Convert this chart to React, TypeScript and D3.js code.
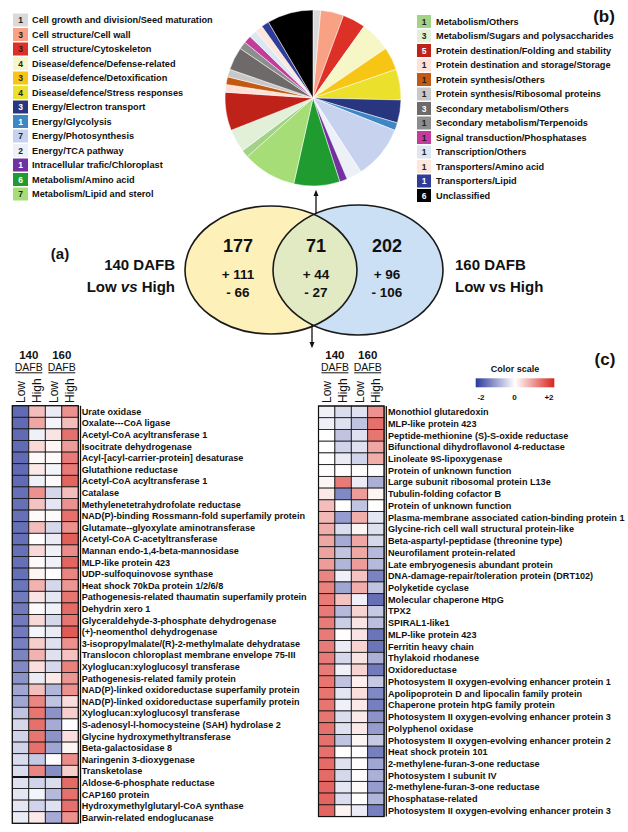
import React from "react";
import * as d3 from "d3";

const pieCategories = [
  "Cell growth and division/Seed maturation",
  "Cell structure/Cell wall",
  "Cell structure/Cytoskeleton",
  "Disease/defence/Defense-related",
  "Disease/defence/Detoxification",
  "Disease/defence/Stress responses",
  "Energy/Electron transport",
  "Energy/Glycolysis",
  "Energy/Photosynthesis",
  "Energy/TCA pathway",
  "Intracellular trafic/Chloroplast",
  "Metabolism/Amino acid",
  "Metabolism/Lipid and sterol",
  "Metabolism/Others",
  "Metabolism/Sugars and polysaccharides",
  "Protein destination/Folding and stability",
  "Protein destination and storage/Storage",
  "Protein synthesis/Others",
  "Protein synthesis/Ribosomal proteins",
  "Secondary metabolism/Others",
  "Secondary metabolism/Terpenoids",
  "Signal transduction/Phosphatases",
  "Transcription/Others",
  "Transporters/Amino acid",
  "Transporters/Lipid",
  "Unclassified",
];
const pieCounts = [1, 3, 3, 4, 3, 4, 3, 1, 7, 2, 1, 6, 7, 1, 3, 5, 1, 1, 1, 3, 1, 1, 1, 1, 1, 6];
const pieColors = [
  "#d9d9d9", "#f9a184", "#dd3127", "#f6f6c6", "#f7c514", "#ebe02c", "#27367f", "#3f86c4",
  "#c7d2ee", "#eef0f8", "#7131a0", "#1f9b30", "#a6dd76", "#a2d286", "#e2efd9", "#bf2219",
  "#fde2d5", "#c45a12", "#c8c8c8", "#6e6a6a", "#8d8d8d", "#c33b9c", "#dde7f3", "#fde6da",
  "#2f3c98", "#000000",
];
const darkNumber = [6, 7, 10, 11, 15, 19, 24, 25];

const leftGenes = [
  "Urate oxidase",
  "Oxalate---CoA ligase",
  "Acetyl-CoA acyltransferase 1",
  "Isocitrate dehydrogenase",
  "Acyl-[acyl-carrier-protein] desaturase",
  "Glutathione reductase",
  "Acetyl-CoA acyltransferase 1",
  "Catalase",
  "Methylenetetrahydrofolate reductase",
  "NAD(P)-binding Rossmann-fold superfamily protein",
  "Glutamate--glyoxylate aminotransferase",
  "Acetyl-CoA C-acetyltransferase",
  "Mannan endo-1,4-beta-mannosidase",
  "MLP-like protein 423",
  "UDP-sulfoquinovose synthase",
  "Heat shock 70kDa protein 1/2/6/8",
  "Pathogenesis-related thaumatin superfamily protein",
  "Dehydrin xero 1",
  "Glyceraldehyde-3-phosphate dehydrogenase",
  "(+)-neomenthol dehydrogenase",
  "3-isopropylmalate/(R)-2-methylmalate dehydratase",
  "Translocon chloroplast membrane envelope 75-III",
  "Xyloglucan:xyloglucosyl transferase",
  "Pathogenesis-related family protein",
  "NAD(P)-linked oxidoreductase superfamily protein",
  "NAD(P)-linked oxidoreductase superfamily protein",
  "Xyloglucan:xyloglucosyl transferase",
  "S-adenosyl-l-homocysteine (SAH) hydrolase 2",
  "Glycine hydroxymethyltransferase",
  "Beta-galactosidase 8",
  "Naringenin 3-dioxygenase",
  "Transketolase",
  "Aldose-6-phosphate reductase",
  "CAP160 protein",
  "Hydroxymethylglutaryl-CoA synthase",
  "Barwin-related endoglucanase",
];
// columns: 140 Low, 140 High, 160 Low, 160 High
const leftValues = [
  [-1.5, 0.6, -0.2, 1.0],
  [-1.5, 0.8, -0.1, 0.6],
  [-1.5, -0.15, 0.25, 1.3],
  [-1.5, 0.35, 0.1, 0.9],
  [-1.5, 0.05, 0.05, 1.2],
  [-1.5, 0.2, -0.1, 1.2],
  [-1.5, -0.15, 0.05, 1.4],
  [-1.45, 1.0, -0.4, 0.6],
  [-1.45, 0.55, -0.25, 1.0],
  [-1.45, 0.05, 0.05, 1.3],
  [-1.45, 0.6, -0.4, 1.0],
  [-1.45, 0.0, -0.2, 1.45],
  [-1.45, 0.35, -0.15, 1.05],
  [-1.45, 0.05, -0.15, 1.4],
  [-1.45, 0.1, 0.02, 1.1],
  [-1.4, 0.7, -0.4, 0.95],
  [-1.35, 0.25, -0.25, 1.25],
  [-1.35, 0.05, -0.15, 1.35],
  [-1.35, 0.35, -0.4, 1.25],
  [-1.35, -0.1, -0.2, 1.5],
  [-1.3, 0.45, -0.3, 1.0],
  [-1.25, 0.7, -0.3, 0.55],
  [-1.2, 0.3, -0.4, 1.15],
  [-1.1, -0.2, 0.2, 0.95],
  [-0.9, 0.6, -0.75, 1.0],
  [-0.9, 1.1, -0.6, 0.3],
  [-0.6, 1.25, -1.1, 0.45],
  [-0.4, 1.3, -0.85, 0.02],
  [-0.45, 1.25, -1.1, 0.3],
  [-0.45, 1.3, -0.9, 0.1],
  [-0.35, -0.55, 0.03, 1.05],
  [-0.35, 1.1, -1.15, 0.45],
  [-0.3, -0.45, -0.35, 1.35],
  [-0.25, -0.1, -0.7, 1.3],
  [-0.25, -0.45, -0.3, 1.3],
  [-0.2, 0.2, -0.85, 1.0],
];

const rightGenes = [
  "Monothiol glutaredoxin",
  "MLP-like protein 423",
  "Peptide-methionine (S)-S-oxide reductase",
  "Bifunctional dihydroflavonol 4-reductase",
  "Linoleate 9S-lipoxygenase",
  "Protein of unknown function",
  "Large subunit ribosomal protein L13e",
  "Tubulin-folding cofactor B",
  "Protein of unknown function",
  "Plasma-membrane associated cation-binding protein 1",
  "Glycine-rich cell wall structural protein-like",
  "Beta-aspartyl-peptidase (threonine type)",
  "Neurofilament protein-related",
  "Late embryogenesis abundant protein",
  "DNA-damage-repair/toleration protein (DRT102)",
  "Polyketide cyclase",
  "Molecular chaperone HtpG",
  "TPX2",
  "SPIRAL1-like1",
  "MLP-like protein 423",
  "Ferritin heavy chain",
  "Thylakoid rhodanese",
  "Oxidoreductase",
  "Photosystem II oxygen-evolving enhancer protein 1",
  "Apolipoprotein D and lipocalin family protein",
  "Chaperone protein htpG family protein",
  "Photosystem II oxygen-evolving enhancer protein 3",
  "Polyphenol oxidase",
  "Photosystem II oxygen-evolving enhancer protein 2",
  "Heat shock protein 101",
  "2-methylene-furan-3-one reductase",
  "Photosystem I subunit IV",
  "2-methylene-furan-3-one reductase",
  "Phosphatase-related",
  "Photosystem II oxygen-evolving enhancer protein 3",
];
const rightValues = [
  [-0.15, -0.35, -0.3, 1.0],
  [-0.15, -0.3, -0.6, 1.3],
  [0.0, -0.6, -0.3, 1.25],
  [0.0, -0.45, -0.3, 0.8],
  [0.0, -0.2, -0.45, 0.75],
  [0.03, 0.0, 0.03, 0.03],
  [0.1, 1.2, -0.2, -0.8],
  [0.2, -1.2, 0.9, 0.1],
  [0.6, 0.0, -0.6, 0.0],
  [0.65, -1.0, 0.75, -0.25],
  [0.75, -0.35, 0.1, -0.3],
  [0.8, -0.85, 0.8, -0.4],
  [0.85, -0.6, 0.8, -0.7],
  [0.9, -0.75, 0.9, -0.7],
  [1.1, -0.15, 0.55, -1.25],
  [1.15, -0.9, 0.75, -0.6],
  [1.2, 0.55, -0.15, -1.45],
  [1.2, -0.7, 0.4, -0.55],
  [1.2, -0.5, 0.25, -0.65],
  [1.2, 0.02, 0.25, -1.4],
  [1.2, -0.2, 0.4, -1.4],
  [1.2, -0.4, 0.25, -0.8],
  [1.2, -0.15, 0.4, -1.35],
  [1.25, -0.6, 0.15, -0.55],
  [1.25, -0.25, 0.3, -1.2],
  [1.25, -0.15, 0.2, -1.3],
  [1.25, -0.35, 0.2, -1.1],
  [1.3, -0.3, 0.2, -1.0],
  [1.3, -0.6, 0.1, -0.55],
  [1.3, 0.0, 0.03, -1.3],
  [1.35, -0.3, 0.03, -0.9],
  [1.35, -0.4, 0.03, -0.8],
  [1.4, -0.25, 0.05, -1.0],
  [1.4, -0.35, 0.0, -0.75],
  [1.4, 0.1, -0.2, -1.3],
];

const columns = ["Low", "High", "Low", "High"];
const stages = ["140", "160"];
const scaleTicks = ["-2", "0", "+2"];

const FONT = "'Liberation Sans', Arial, Helvetica, sans-serif";

const color = d3
  .scaleLinear<string>()
  .domain([-2, 0, 2])
  .range(["#2c3a9c", "#ffffff", "#d8231c"])
  .interpolate(d3.interpolateRgb)
  .clamp(true);

function Heatmap({ genes, values, x0, cellW, y0, cellH, labelX, sepAfter }: any) {
  const xs = d3.scaleBand<number>().domain([0, 1, 2, 3]).range([x0, x0 + 4 * cellW]);
  const ys = d3.scaleBand<number>().domain(genes.map((_: any, i: number) => i)).range([y0, y0 + genes.length * cellH]);
  const right = x0 + 4 * cellW;
  const bottom = y0 + genes.length * cellH;
  return (
    <g>
      {values.map((row: number[], i: number) =>
        row.map((v, j) => (
          <rect key={`${i}-${j}`} x={xs(j)} y={ys(i)} width={xs.bandwidth()} height={ys.bandwidth()}
            fill={color(v)} stroke="#111" strokeWidth={0.8} />
        ))
      )}
      <rect x={x0} y={y0} width={4 * cellW} height={genes.length * cellH} fill="none" stroke="#111" strokeWidth={1.2} />
      <line x1={right + 2.2} x2={right + 2.2} y1={y0} y2={bottom} stroke="#111" strokeWidth={1.3} />
      {sepAfter != null && (
        <line x1={x0} x2={right} y1={ys(sepAfter)! + cellH} y2={ys(sepAfter)! + cellH} stroke="#111" strokeWidth={2} />
      )}
      {genes.map((g: string, i: number) => (
        <text key={i} x={labelX} y={ys(i)! + cellH / 2 + 3.2} fontSize={9.1} fontWeight="bold" fill="#111" fontFamily={FONT}>
          {g}
        </text>
      ))}
      {stages.map((s, k) => {
        const cx = (xs(2 * k)! + xs(2 * k + 1)! + cellW) / 2;
        return (
          <g key={s}>
            <text x={cx} y={359} textAnchor="middle" fontSize={11.5} fontWeight="bold" fontFamily={FONT} fill="#111">{s}</text>
            <text x={cx} y={370.5} textAnchor="middle" fontSize={10.5} fontFamily={FONT} fill="#111">DAFB</text>
            <line x1={cx - 13.5} x2={cx + 13.5} y1={372.8} y2={372.8} stroke="#111" strokeWidth={1} />
          </g>
        );
      })}
      {columns.map((c, j) => {
        const cx = xs(j)! + cellW / 2;
        return (
          <text key={j} transform={`translate(${cx + 4.3},${403}) rotate(-90)`} fontSize={12} fontFamily={FONT} fill="#111">
            {c}
          </text>
        );
      })}
    </g>
  );
}

export default function App() {
  const pieCx = 313;
  const pieCy = 98;
  const pieR = 88;
  const pie = d3.pie<number>().sort(null).value((d) => d)(pieCounts);
  const arc = d3.arc<d3.PieArcDatum<number>>().innerRadius(0).outerRadius(pieR);

  const legendRow = (i: number) => 20 + i * 14.5;

  const venn = { y: 270, ry: 64, lx: 271, rx: 358, rrx: 86 };

  return (
    <svg width={628} height={832} style={{ position: "absolute", left: 0, top: 0, background: "#fff" }} fontFamily={FONT}>
      <defs>
        <clipPath id="clipYellow">
          <ellipse cx={venn.lx} cy={venn.y} rx={venn.rrx} ry={venn.ry} />
        </clipPath>
        <linearGradient id="scaleGrad" x1="0" x2="1" y1="0" y2="0">
          {[-2, -1, 0, 1, 2].map((v) => (
            <stop key={v} offset={`${((v + 2) / 4) * 100}%`} stopColor={color(v)} />
          ))}
        </linearGradient>
        <marker id="arrow" viewBox="0 0 10 10" refX="5" refY="5" markerWidth="5" markerHeight="5" orient="auto">
          <path d="M0,1 L10,5 L0,9 Z" fill="#111" />
        </marker>
      </defs>

      {/* Pie */}
      <g transform={`translate(${pieCx},${pieCy})`}>
        {pie.map((p, i) => (
          <path key={i} d={arc(p)!} fill={pieColors[i]} stroke="#fff" strokeWidth={0.5} />
        ))}
      </g>

      {/* Left legend */}
      {pieCategories.slice(0, 13).map((c, i) => (
        <g key={c}>
          <rect x={13} y={legendRow(i) - 6.5} width={15} height={13} fill={pieColors[i]} />
          <text x={20.5} y={legendRow(i) + 3} textAnchor="middle" fontSize={8.5} fontWeight="bold"
            fill={darkNumber.includes(i) ? "#fff" : "#222"}>{pieCounts[i]}</text>
          <text x={32} y={legendRow(i) + 3.2} fontSize={9.2} fontWeight="bold" fill="#111">{c}</text>
        </g>
      ))}
      {/* Right legend */}
      {pieCategories.slice(13).map((c, k) => {
        const i = k + 13;
        const y = legendRow(k) + 1.5;
        return (
          <g key={c}>
            <rect x={417} y={y - 6.5} width={14} height={13} fill={pieColors[i]} />
            <text x={424} y={y + 3} textAnchor="middle" fontSize={8.5} fontWeight="bold"
              fill={darkNumber.includes(i) ? "#fff" : "#222"}>{pieCounts[i]}</text>
            <text x={436} y={y + 3.2} fontSize={9.2} fontWeight="bold" fill="#111">{c}</text>
          </g>
        );
      })}
      <text x={604} y={22} textAnchor="middle" fontSize={17} fontWeight="bold" fill="#111">(b)</text>

      {/* Venn */}
      <ellipse cx={venn.lx} cy={venn.y} rx={venn.rrx} ry={venn.ry} fill="#fdf0b8" />
      <ellipse cx={venn.rx} cy={venn.y} rx={venn.rrx - 1} ry={venn.ry + 1} fill="#cbe0f4" />
      <ellipse cx={venn.rx} cy={venn.y} rx={venn.rrx - 1} ry={venn.ry + 1} fill="#e2eac4" clipPath="url(#clipYellow)" />
      <ellipse cx={venn.lx} cy={venn.y} rx={venn.rrx} ry={venn.ry} fill="none" stroke="#1a1a1a" strokeWidth={1.6} />
      <ellipse cx={venn.rx} cy={venn.y} rx={venn.rrx - 1} ry={venn.ry + 1} fill="none" stroke="#1a1a1a" strokeWidth={1.6} />

      {[
        { x: 238, n: "177", p: "+ 111", m: "- 66" },
        { x: 316, n: "71", p: "+ 44", m: "- 27" },
        { x: 387, n: "202", p: "+ 96", m: "- 106" },
      ].map((d) => (
        <g key={d.n} fontWeight="bold" fill="#111" textAnchor="middle">
          <text x={d.x} y={252} fontSize={18}>{d.n}</text>
          <text x={d.x} y={279} fontSize={13.5}>{d.p}</text>
          <text x={d.x} y={297} fontSize={13.5}>{d.m}</text>
        </g>
      ))}
      <text x={60} y={259} textAnchor="middle" fontSize={15} fontWeight="bold" fill="#111">(a)</text>
      <text x={175} y={270} textAnchor="end" fontSize={15} fontWeight="bold" fill="#111">140 DAFB</text>
      <text x={175} y={292} textAnchor="end" fontSize={15} fontWeight="bold" fill="#111">
        Low <tspan fontStyle="italic">vs</tspan> High
      </text>
      <text x={455} y={270} fontSize={15} fontWeight="bold" fill="#111">160 DAFB</text>
      <text x={455} y={292} fontSize={15} fontWeight="bold" fill="#111">Low vs High</text>

      <line x1={316} x2={316} y1={214} y2={193} stroke="#111" strokeWidth={1.3} markerEnd="url(#arrow)" />
      <line x1={312} x2={312} y1={324} y2={345} stroke="#111" strokeWidth={1.3} markerEnd="url(#arrow)" />

      {/* Heatmaps */}
      <Heatmap genes={leftGenes} values={leftValues} x0={12.3} cellW={16.5} y0={405.7} cellH={11.6} labelX={81.7} sepAfter={31} />
      <Heatmap genes={rightGenes} values={rightValues} x0={318.5} cellW={16.4} y0={406} cellH={11.73} labelX={388} sepAfter={null} />

      {/* Color scale */}
      <text x={515} y={372} textAnchor="middle" fontSize={9} fontWeight="bold" fill="#111">Color scale</text>
      <rect x={475.7} y={378.3} width={78.6} height={9} fill="url(#scaleGrad)" />
      {scaleTicks.map((t, i) => (
        <text key={t} x={[481, 514.5, 549][i]} y={400} textAnchor="middle" fontSize={8} fontWeight="bold" fill="#111">{t}</text>
      ))}
      <text x={605} y={365} textAnchor="middle" fontSize={17} fontWeight="bold" fill="#111">(c)</text>
    </svg>
  );
}
